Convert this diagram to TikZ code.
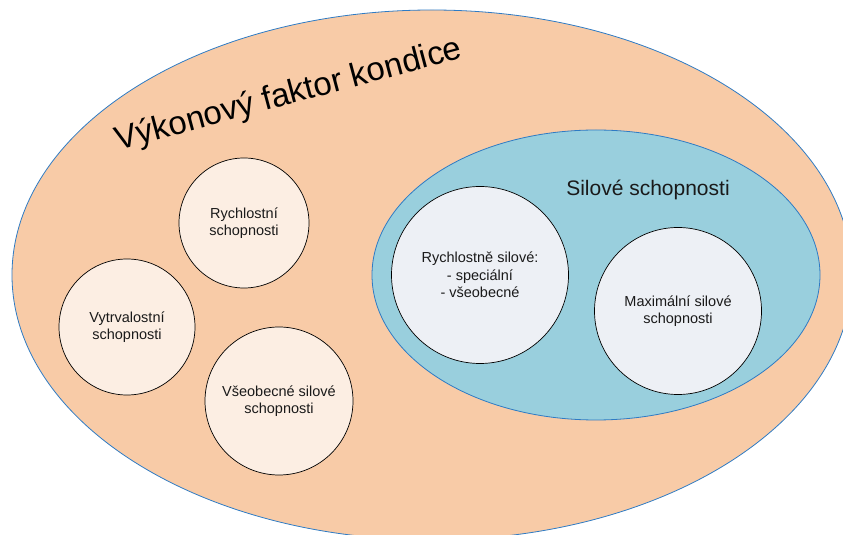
\documentclass[tikz,border=0pt]{standalone}
\usepackage{fontspec}
\setmainfont{Liberation Sans}
\usetikzlibrary{shapes.geometric}
\definecolor{peach}{HTML}{F8CBA7}
\definecolor{aqua}{HTML}{99CFDD}
\definecolor{rim}{HTML}{2E7BC4}
\definecolor{lightpeach}{HTML}{FCEEE3}
\definecolor{lightgrey}{HTML}{EDF0F5}
\definecolor{ink}{HTML}{1A1A1A}
\begin{document}
\begin{tikzpicture}[x=1pt,y=1pt,
  bigoval/.style={ellipse, draw=rim, line width=0.8pt, inner sep=0pt},
  skill/.style={circle, draw=black, line width=0.7pt, inner sep=0pt,
    fill=lightpeach, align=center, text=ink,
    font=\fontsize{14.5}{17.5}\selectfont},
  forceskill/.style={skill, fill=lightgrey}]
\useasboundingbox (0,0) rectangle (843,535);
\clip (0,0) rectangle (843,535);
% outer oval: performance factor
\node[bigoval, fill=peach, minimum width=840pt, minimum height=530pt] (outer) at (432,260) {};
% inner oval: strength abilities
\node[bigoval, fill=aqua, minimum width=448pt, minimum height=290pt] (force) at (596,260) {};
% headings
\node[anchor=base, rotate=15, text=black, font=\fontsize{33}{38}\selectfont] (title) at (291,431) {Výkonový faktor kondice};
\node[anchor=base, text=ink, font=\fontsize{21}{25}\selectfont] (forcetitle) at (648,339) {Silové schopnosti};
% individual abilities
\node[skill, minimum size=130pt] (speed) at (244,312) {Rychlostní\\schopnosti};
\node[skill, minimum size=136pt] (endur) at (127,208) {Vytrvalostní\\schopnosti};
\node[skill, minimum size=148pt] (general) at (279,134) {Všeobecné silové\\schopnosti};
\node[forceskill, minimum size=177pt] (speedforce) at (480,260) {Rychlostně silové:\\- speciální\\- všeobecné};
\node[forceskill, minimum size=167pt] (maxforce) at (678,224) {Maximální silové\\schopnosti};
\end{tikzpicture}
\end{document}
